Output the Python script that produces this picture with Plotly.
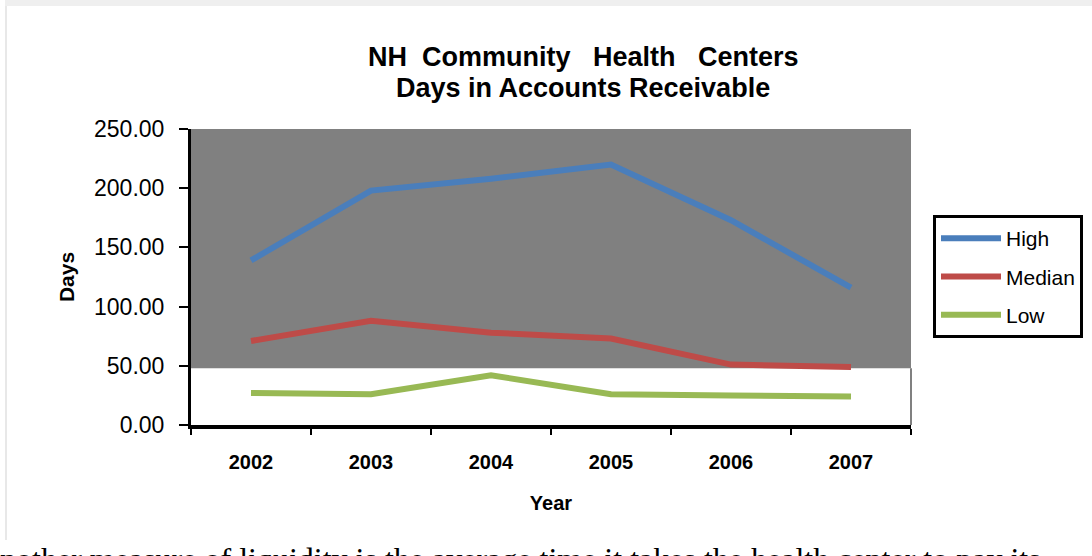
import plotly.graph_objects as go

years = ["2002", "2003", "2004", "2005", "2006", "2007"]
high = [139, 198, 208, 220, 173, 116]
median = [71, 88, 78, 73, 51, 49]
low = [27, 26, 42, 26, 25, 24]

series_names = ["High", "Median", "Low"]
series_colors = ["#4A7EBB", "#BE4B48", "#98B954"]
y_ticks = [0, 50, 100, 150, 200, 250]
gray_band_bottom = 48

NB = "\u00a0"
title_lines = ["NH" + NB * 2 + "Community" + NB * 3 + "Health" + NB * 3 + "Centers",
               "Days in Accounts Receivable"]

W, H = 1092, 556
L, R, T, B = 191, 911, 129, 425  # plot area in px

def px_x(px):
    return (px - L) / (R - L)

def px_y(py):
    return (B - py) / (B - T)

FONT = "Arial, Liberation Sans, sans-serif"

fig = go.Figure()
for name, vals, col in zip(series_names, [high, median, low], series_colors):
    fig.add_trace(go.Scatter(
        x=years, y=vals, name=name, mode="lines",
        line=dict(color=col, width=6), legendgroup=name,
    ))

fig.update_layout(
    width=W, height=H,
    margin=dict(l=L, r=W - R, t=T, b=H - B, autoexpand=False),
    paper_bgcolor="white", plot_bgcolor="white",
    font=dict(family=FONT, color="black"),
    showlegend=True,
    legend=dict(x=px_x(933), y=px_y(215), xanchor="left", yanchor="top",
                bordercolor="black", borderwidth=3, bgcolor="white",
                font=dict(size=21, family=FONT), traceorder="grouped",
                tracegroupgap=8, itemwidth=60),
    xaxis=dict(
        type="category", range=[-0.5, 5.5], tickson="boundaries",
        ticks="outside", ticklen=6, tickwidth=2, tickcolor="black",
        showline=True, linecolor="black", linewidth=4, showgrid=False,
        zeroline=False,
        tickfont=dict(size=20, family=FONT, weight="bold"),
        ticklabelstandoff=16,
        title=dict(text="Year", font=dict(size=20, family=FONT, weight="bold"),
                   standoff=25),
    ),
    yaxis=dict(
        range=[0, 250], tickvals=y_ticks, tickformat=".2f",
        ticks="outside", ticklen=9, tickwidth=2, tickcolor="black",
        showline=True, linecolor="black", linewidth=3, showgrid=False,
        zeroline=False,
        tickfont=dict(size=23, family=FONT),
        ticklabelstandoff=10,
        title=dict(text="Days", font=dict(size=21, family=FONT, weight="bold"),
                   standoff=14),
    ),
)

# title (two lines, placed individually)
for txt, yc in zip(title_lines, [57, 88]):
    fig.add_annotation(text=txt, xref="paper", yref="paper",
                       x=px_x(583), y=px_y(yc), xanchor="center", yanchor="middle",
                       showarrow=False,
                       font=dict(size=27, family=FONT, weight="bold", color="black"))

# gray upper band of the plot area
fig.add_shape(type="rect", xref="paper", yref="y", x0=0, x1=1,
              y0=gray_band_bottom, y1=250, fillcolor="#808080",
              line=dict(width=0), layer="below")
# right border of plot area (visible in white part)
fig.add_shape(type="line", xref="paper", yref="y", x0=1, x1=1,
              y0=0, y1=gray_band_bottom, line=dict(color="#808080", width=2))
# chart frame (light gray)
fig.add_shape(type="rect", xref="paper", yref="paper",
              x0=px_x(5), x1=px_x(W + 5), y0=px_y(0), y1=px_y(6),
              fillcolor="#efefef", line=dict(width=0))
fig.add_shape(type="line", xref="paper", yref="paper",
              x0=px_x(6), x1=px_x(6), y0=px_y(6), y1=px_y(540),
              line=dict(color="#e8e8e8", width=2))

# document text below the chart (cut off)
fig.add_annotation(
    text="Another measure of liquidity is the average time it takes the health center to pay its",
    xref="paper", yref="paper", x=px_x(-25), y=px_y(539),
    xanchor="left", yanchor="top", showarrow=False,
    font=dict(family="Liberation Serif, Times New Roman, serif", size=32, color="black"),
)

fig.write_html("out.html", config={"displayModeBar": False},
               post_script="document.body.style.margin='0';")
